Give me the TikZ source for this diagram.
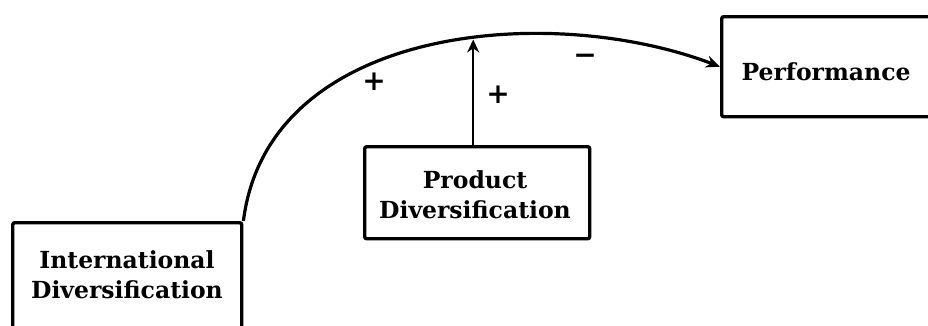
\documentclass[tikz,border=0pt]{standalone}
\usepackage{fontspec}
\setmainfont{DejaVu Serif}
\usetikzlibrary{arrows.meta}
\begin{document}
\begin{tikzpicture}[x=1pt,y=-1pt,
  box/.style={draw,line width=3.4pt,rounded corners=2pt,inner sep=0pt},
  lbl/.style={font=\fontsize{23.5}{30}\selectfont\bfseries,align=center,inner sep=0pt},
  sign/.style={font=\fontsize{28}{28}\selectfont\bfseries,inner sep=0pt},
  conn/.style={line width=3.2pt,-{Stealth[length=14pt,width=12pt]}}]
\useasboundingbox (0,0) rectangle (928,325);
\clip (0,0) rectangle (928,325);
\node[box,anchor=north west,minimum width=229pt,minimum height=110pt] (intl) at (11,221) {};
\node[lbl] (intltxt) at (127,275) {International\\Diversification};
\node[box,anchor=north west,minimum width=225pt,minimum height=92pt] (prod) at (363,145) {};
\node[lbl] (prodtxt) at (475,195) {Product\\Diversification};
\node[box,anchor=north west,minimum width=230pt,minimum height=100pt] (perf) at (720,15) {};
\node[lbl] (perftxt) at (826,72) {Performance};
\draw[conn] (intl.north east) .. controls (268,25) and (550,2) .. coordinate[pos=0.56] (hit) (perf.west);
\draw[line width=2.2pt,-{Stealth[length=13pt,width=12pt]}] ([xshift=-4pt]prod.north) -- ([xshift=-4pt]prod.north |- hit);
\node[sign] (p1) at (374,82) {+};
\node[sign] (p2) at (498,95) {+};
\node[sign] (m1) at (585,59) {−};
\end{tikzpicture}
\end{document}
